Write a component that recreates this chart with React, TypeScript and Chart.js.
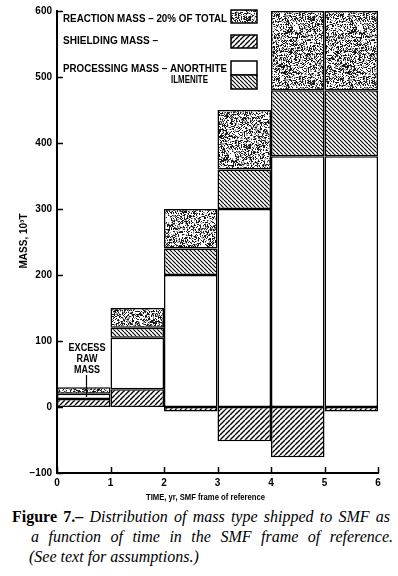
import React, { useEffect, useRef } from "react";
import { Chart, registerables } from "chart.js";
Chart.register(...registerables);

// ---- data ----
const yearMidpoints = [0.5, 1.5, 2.5, 3.5, 4.5, 5.5];
const xTickValues = [0, 1, 2, 3, 4, 5, 6];
const yTickValues = [-100, 0, 100, 200, 300, 400, 500, 600];
const shieldingMass = [12, 27, -7, -52, -76, -7];
const anorthiteMass = [8, 78, 200, 300, 380, 380];
const ilmeniteMass = [null, 15, 40, 60, 100, 100];
const reactionMass = [10, 30, 60, 90, 120, 120];

const xTitle = "TIME, yr, SMF frame of reference";
const yTitle = "MASS, 10\u00B3T";
const legendReaction = "REACTION MASS \u2013 20% OF TOTAL";
const legendShielding = "SHIELDING MASS \u2013";
const legendProcessing = "PROCESSING MASS \u2013 ANORTHITE";
const legendIlmenite = "ILMENITE";
const excessLines = ["EXCESS", "RAW", "MASS"];

const SANS = '"Liberation Sans", Arial, Helvetica, sans-serif';

function makeStipple(ctx: CanvasRenderingContext2D) {
  const n = 64;
  const c = document.createElement("canvas");
  c.width = n;
  c.height = n;
  const g = c.getContext("2d")!;
  const img = g.createImageData(n, n);
  let s = 987654321;
  for (let i = 0; i < n * n; i++) {
    s = (s * 1103515245 + 12345) & 0x7fffffff;
    const r = s / 0x7fffffff;
    const v = r < 0.34 ? 25 : r < 0.5 ? 150 : 255;
    img.data[i * 4] = v;
    img.data[i * 4 + 1] = v;
    img.data[i * 4 + 2] = v;
    img.data[i * 4 + 3] = 255;
  }
  g.putImageData(img, 0, 0);
  return ctx.createPattern(c, "repeat")!;
}

function makeHatch(ctx: CanvasRenderingContext2D, size: number, lw: number, forward: boolean) {
  const c = document.createElement("canvas");
  c.width = size;
  c.height = size;
  const g = c.getContext("2d")!;
  g.fillStyle = "#fff";
  g.fillRect(0, 0, size, size);
  g.strokeStyle = "#000";
  g.lineWidth = lw;
  g.beginPath();
  for (let k = -1; k <= 1; k++) {
    if (forward) {
      g.moveTo(k * size, size);
      g.lineTo(k * size + size, 0);
    } else {
      g.moveTo(k * size, 0);
      g.lineTo(k * size + size, size);
    }
  }
  g.stroke();
  return ctx.createPattern(c, "repeat")!;
}

function fitText(
  ctx: CanvasRenderingContext2D,
  text: string,
  x: number,
  y: number,
  width: number,
  size: number,
  align: "left" | "center" = "left"
) {
  ctx.save();
  ctx.font = `bold ${size}px ${SANS}`;
  ctx.textBaseline = "alphabetic";
  ctx.textAlign = "left";
  const w = ctx.measureText(text).width;
  const sx = width / w;
  const x0 = align === "center" ? x - width / 2 : x;
  ctx.translate(x0, y);
  ctx.scale(sx, 1);
  ctx.fillStyle = "#000";
  ctx.fillText(text, 0, 0);
  ctx.restore();
}

export default function App() {
  const canvasRef = useRef<HTMLCanvasElement | null>(null);

  useEffect(() => {
    const canvas = canvasRef.current!;
    const ctx = canvas.getContext("2d")!;
    const stipple = makeStipple(ctx);
    const fwdHatch = makeHatch(ctx, 5, 1.4, true);
    const backHatch = makeHatch(ctx, 4, 1.1, false);

    const pts = (arr: (number | null)[]) =>
      arr.map((v, i) => ({ x: yearMidpoints[i], y: v }));

    const barCommon = {
      borderColor: "#000",
      borderWidth: 1.5,
      borderSkipped: false as const,
      barPercentage: 1,
      categoryPercentage: 1,
      inflateAmount: 0,
    };

    const decor = {
      id: "decor",
      afterDraw(chart: any) {
        const c: CanvasRenderingContext2D = chart.ctx;
        const xs = chart.scales.x;
        const ys = chart.scales.y;
        const area = chart.chartArea;
        c.save();
        c.strokeStyle = "#000";
        c.lineWidth = 1.5;
        // inward tick marks
        c.beginPath();
        yTickValues.forEach((v) => {
          const py = Math.round(ys.getPixelForValue(v)) + 0.5;
          c.moveTo(area.left, py);
          c.lineTo(area.left + 6, py);
        });
        xTickValues.forEach((v) => {
          const px = Math.round(xs.getPixelForValue(v)) + 0.5;
          c.moveTo(px, area.bottom);
          c.lineTo(px, area.bottom - 6);
        });
        c.stroke();

        // legend
        fitText(c, legendReaction, 63, 22, 164, 10);
        fitText(c, legendShielding, 63, 44, 95, 10);
        fitText(c, legendProcessing, 63, 72, 164, 10);
        fitText(c, legendIlmenite, 171, 83, 37, 10);
        const boxX = 231;
        const boxW = 26;
        const drawBox = (y: number, h: number, fill: any) => {
          c.fillStyle = fill;
          c.fillRect(boxX, y, boxW, h);
          c.lineWidth = 1.5;
          c.strokeStyle = "#000";
          c.strokeRect(boxX, y, boxW, h);
        };
        drawBox(10, 13, stipple);
        drawBox(35, 13, fwdHatch);
        drawBox(61, 14, "#fff");
        drawBox(75, 14, backHatch);

        // excess raw mass annotation
        fitText(c, excessLines[0], 87, 351, 37, 10, "center");
        fitText(c, excessLines[1], 87, 362, 21, 10, "center");
        fitText(c, excessLines[2], 87, 372.5, 26, 10, "center");
        c.lineWidth = 1.2;
        c.beginPath();
        c.moveTo(86.5, 375);
        c.lineTo(86.5, 397);
        c.stroke();

        // y title
        c.save();
        c.translate(27, 241);
        c.rotate(-Math.PI / 2);
        fitText(c, yTitle, 0, 0, 55, 10, "center");
        c.restore();

        // x title
        fitText(c, xTitle, 205.5, 500, 119, 9, "center");
        c.restore();
      },
    };

    const chart = new Chart(ctx, {
      type: "bar",
      data: {
        datasets: [
          { label: "Shielding mass", data: pts(shieldingMass), backgroundColor: fwdHatch, ...barCommon },
          { label: "Processing mass - anorthite", data: pts(anorthiteMass), backgroundColor: "#fff", ...barCommon },
          { label: "Processing mass - ilmenite", data: pts(ilmeniteMass), backgroundColor: backHatch, ...barCommon },
          { label: "Reaction mass - 20% of total", data: pts(reactionMass), backgroundColor: stipple, ...barCommon },
        ] as any,
      },
      options: {
        responsive: false,
        animation: false,
        events: [],
        layout: { padding: { left: 0, right: 20, top: 9, bottom: 0 } },
        plugins: { legend: { display: false }, tooltip: { enabled: false } },
        scales: {
          x: {
            type: "linear",
            stacked: true,
            offset: false,
            min: 0,
            max: 6,
            afterFit: (s: any) => {
              s.height = 32;
            },
            afterBuildTicks: (s: any) => {
              s.ticks = xTickValues.map((v) => ({ value: v }));
            },
            ticks: {
              color: "#000",
              font: { family: SANS, size: 10, weight: "bold" },
              padding: 4,
              maxRotation: 0,
            },
            grid: { display: false, drawTicks: false, offset: false },
            border: { display: true, color: "#000", width: 2 },
          },
          y: {
            stacked: true,
            min: -100,
            max: 600,
            afterFit: (s: any) => {
              s.width = 57;
            },
            afterBuildTicks: (s: any) => {
              s.ticks = yTickValues.map((v) => ({ value: v }));
            },
            ticks: {
              color: "#000",
              font: { family: SANS, size: 10, weight: "bold" },
              padding: 5,
              callback: (v: any) => (Number(v) < 0 ? "\u2212" + Math.abs(Number(v)) : String(v)),
            },
            grid: { display: false, drawTicks: false },
            border: { display: true, color: "#000", width: 2 },
          },
        },
      } as any,
      plugins: [decor],
    });
    return () => chart.destroy();
  }, []);

  const lineStyle: React.CSSProperties = {
    whiteSpace: "nowrap",
    textAlign: "justify",
    textAlignLast: "justify" as any,
  };

  return (
    <div style={{ position: "absolute", left: 0, top: 0, width: 398, height: 576, background: "#fff" }}>
      <canvas ref={canvasRef} width={398} height={505} style={{ display: "block", width: 398, height: 505 }} />
      <div
        style={{
          position: "absolute",
          left: 0,
          top: 507,
          width: 398,
          fontFamily: '"Liberation Serif", "Times New Roman", serif',
          fontSize: 16,
          lineHeight: "20px",
          color: "#000",
        }}
      >
        <div style={{ ...lineStyle, marginLeft: 12, width: 378 }}>
          <b>Figure 7.–</b> <i>Distribution of mass type shipped to SMF as</i>
        </div>
        <div style={{ ...lineStyle, marginLeft: 31, width: 362 }}>
          <i>a function of time in the SMF frame of reference.</i>
        </div>
        <div style={{ whiteSpace: "nowrap", marginLeft: 29 }}>
          <i>(See text for assumptions.)</i>
        </div>
      </div>
    </div>
  );
}
